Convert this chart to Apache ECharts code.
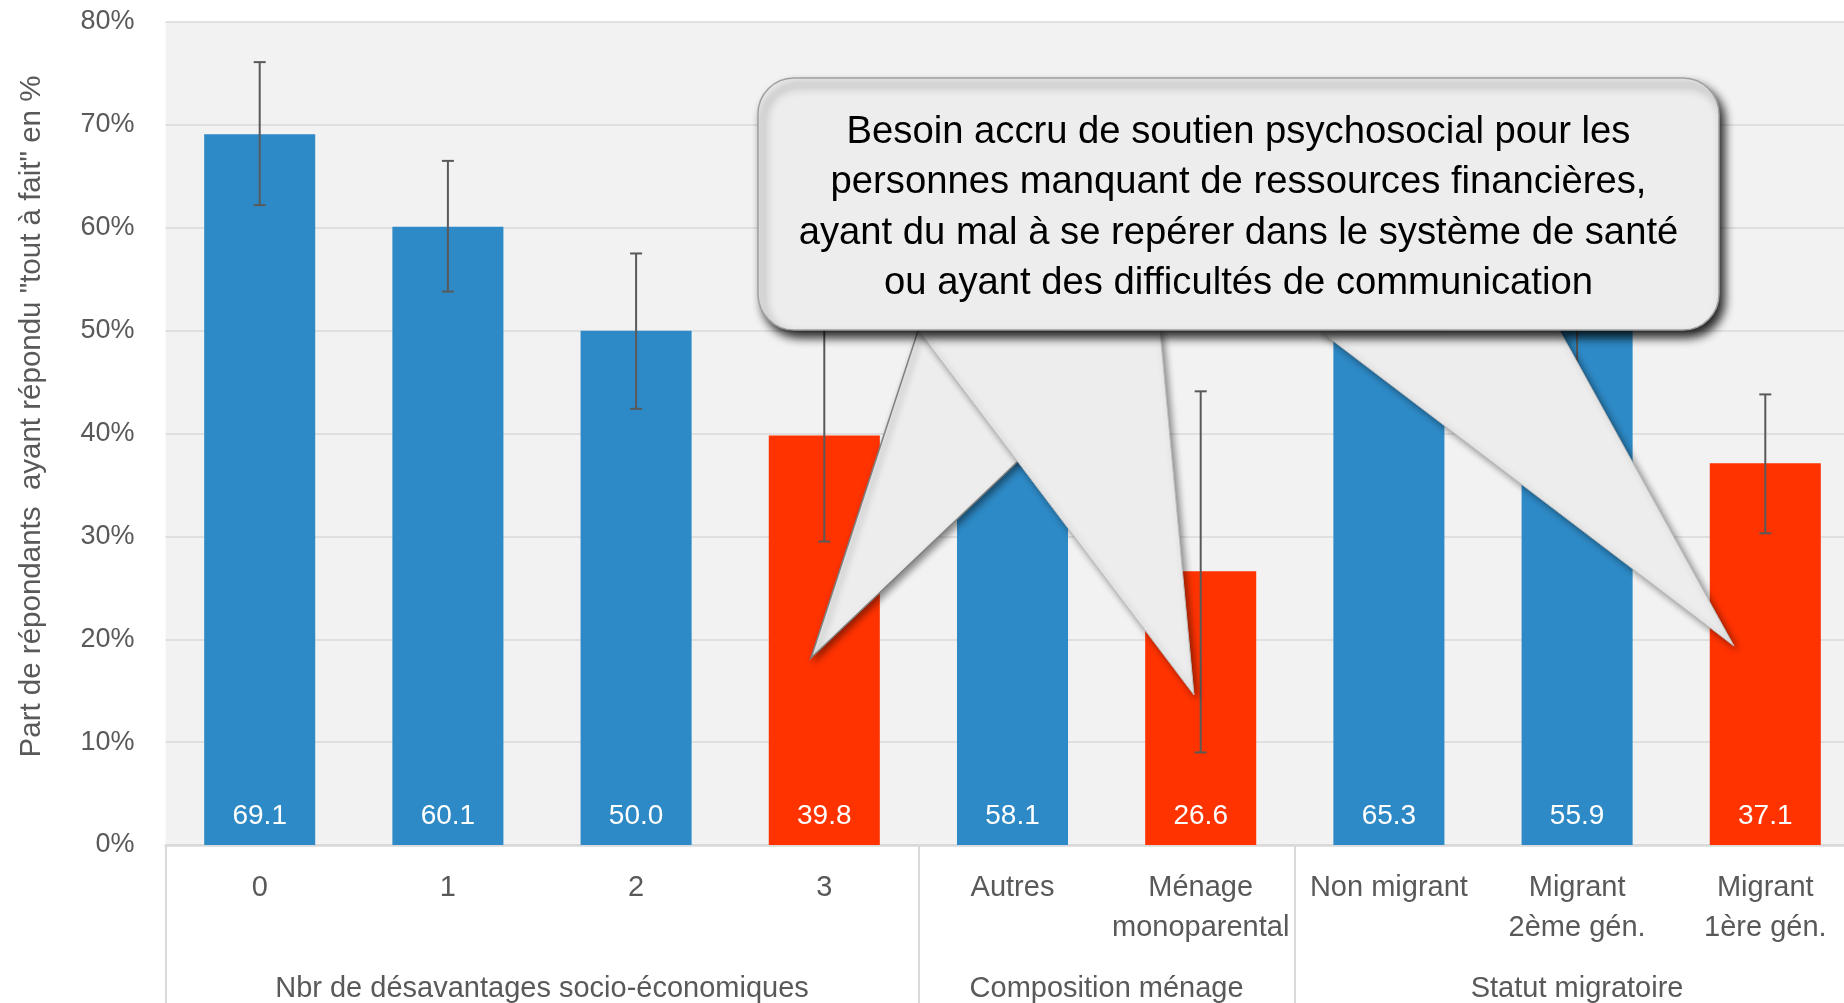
<!DOCTYPE html>
<html>
<head>
<meta charset="utf-8">
<style>
  html, body { margin: 0; padding: 0; background: #ffffff; }
  #chart { width: 1844px; height: 1003px; }
</style>
<script src="https://cdn.jsdelivr.net/npm/echarts@6/dist/echarts.min.js"></script>
</head>
<body>
<div id="chart"></div>
<script>
// ---------- data ----------
const categories = ['0', '1', '2', '3', 'Autres', 'Ménage\nmonoparental', 'Non migrant', 'Migrant\n2ème gén.', 'Migrant\n1ère gén.'];
const values = [69.1, 60.1, 50.0, 39.8, 58.1, 26.6, 65.3, 55.9, 37.1];
const errLow = [62.2, 53.8, 42.4, 29.5, 52.5, 9.0, 60.2, 45.0, 30.3];
const errHigh = [76.1, 66.5, 57.5, 51.0, 63.7, 44.1, 70.4, 66.8, 43.8];
const highlighted = [false, false, false, true, false, true, false, false, true];
const groupNames = ['Nbr de désavantages socio-économiques', 'Composition ménage', 'Statut migratoire'];
const groupSizes = [4, 2, 3];
const yMin = 0, yMax = 80, yStep = 10;
const yAxisTitle = 'Part de répondants  ayant répondu "tout à fait" en %';
const calloutLines = [
  'Besoin accru de soutien psychosocial pour les',
  'personnes manquant de ressources financières,',
  'ayant du mal à se repérer dans le système de santé',
  'ou ayant des difficultés de communication'
];

// ---------- layout helpers ----------
const FONT = "'Liberation Sans', Arial, sans-serif";
const BLUE = '#2E8AC6', RED = '#FF3300', GREY_TXT = '#595959', GRID = '#d9d9d9';

const groupStarts = [];
const groupCenters = [];
let acc = 0;
groupSizes.forEach(s => { groupStarts.push(acc); groupCenters.push(acc + s / 2); acc += s; });

// fit callout font size to the measured width of the widest line
const ctx = document.createElement('canvas').getContext('2d');
ctx.font = '100px ' + FONT;
const w3 = ctx.measureText(calloutLines[2]).width;
const calloutFont = Math.min(40, 100 * 880 / w3);

const chart = echarts.init(document.getElementById('chart'), null, { renderer: 'canvas' });

const pointerStyle = {
  fill: '#ededed', stroke: '#bfbfbf', lineWidth: 1,
  shadowBlur: 7, shadowOffsetX: 3, shadowOffsetY: 3, shadowColor: 'rgba(0,0,0,0.45)'
};

const option = {
  backgroundColor: '#ffffff',
  animation: false,
  grid: {
    left: 165.6, top: 22, width: 1693.8, height: 823,
    outerBoundsMode: 'none',
    containLabel: false,
    show: true, backgroundColor: '#f2f2f2', borderWidth: 0
  },
  xAxis: [
    {
      type: 'category',
      data: categories,
      boundaryGap: true,
      axisLine: { show: true, lineStyle: { color: GRID, width: 2.5 } },
      axisTick: { show: false },
      axisLabel: {
        interval: 0, color: GREY_TXT, fontFamily: FONT, fontSize: 29,
        lineHeight: 40, margin: 22.5
      },
      splitLine: { show: false }
    },
    {
      type: 'value',
      position: 'bottom',
      min: 0, max: categories.length,
      axisLine: { show: false },
      splitLine: { show: false },
      axisTick: {
        show: true, length: 160, inside: false,
        customValues: groupStarts,
        lineStyle: { color: GRID, width: 2 }
      },
      axisLabel: {
        show: true,
        customValues: groupCenters,
        formatter: v => {
          const i = groupCenters.findIndex(c => Math.abs(c - v) < 1e-6);
          return i >= 0 ? groupNames[i] : '';
        },
        color: GREY_TXT, fontFamily: FONT, fontSize: 29, lineHeight: 40, margin: 124
      }
    }
  ],
  yAxis: {
    type: 'value',
    min: yMin, max: yMax, interval: yStep,
    name: yAxisTitle,
    nameLocation: 'middle',
    nameGap: 119,
    nameRotate: 90,
    nameTextStyle: { color: GREY_TXT, fontFamily: FONT, fontSize: 29.5, padding: [0, 0, 0, 34] },
    axisLine: { show: false },
    axisTick: { show: false },
    axisLabel: { formatter: '{value}%', color: GREY_TXT, fontFamily: FONT, fontSize: 27, margin: 31 },
    splitLine: { show: true, lineStyle: { color: GRID, width: 1.5 } }
  },
  series: [
    {
      type: 'bar',
      xAxisIndex: 0,
      barWidth: '59%',
      data: values.map((v, i) => ({ value: v, itemStyle: { color: highlighted[i] ? RED : BLUE } })),
      label: {
        show: true, position: 'insideBottom', distance: 15,
        color: '#ffffff', fontFamily: FONT, fontSize: 28,
        formatter: p => p.value.toFixed(1)
      },
      z: 2
    },
    {
      type: 'custom',
      xAxisIndex: 0,
      z: 3,
      data: categories.map((c, i) => [i, errLow[i], errHigh[i]]),
      renderItem: (params, api) => {
        const x = api.value(0);
        const lo = api.coord([x, api.value(1)]);
        const hi = api.coord([x, api.value(2)]);
        const hw = 6;
        const st = { stroke: '#595959', lineWidth: 2 };
        return {
          type: 'group',
          children: [
            { type: 'line', shape: { x1: lo[0], y1: lo[1], x2: hi[0], y2: hi[1] }, style: st },
            { type: 'line', shape: { x1: hi[0] - hw, y1: hi[1], x2: hi[0] + hw, y2: hi[1] }, style: st },
            { type: 'line', shape: { x1: lo[0] - hw, y1: lo[1], x2: lo[0] + hw, y2: lo[1] }, style: st }
          ]
        };
      }
    }
  ],
  graphic: [
    { type: 'polygon', z: 100, shape: { points: [[918, 331], [811, 658], [1155, 331]] },
      style: Object.assign({}, pointerStyle, { stroke: '#808080', lineWidth: 1.5 }) },
    { type: 'polygon', z: 101, shape: { points: [[919, 331], [1194, 695], [1160, 331]] }, style: pointerStyle },
    { type: 'polygon', z: 101, shape: { points: [[1320, 331], [1734, 646], [1560, 331]] }, style: pointerStyle },
    { type: 'rect', z: 102,
      shape: { x: 758, y: 78, width: 961, height: 252, r: 36 },
      style: { fill: '#ededed', stroke: '#a0a0a0', lineWidth: 1.5,
               shadowBlur: 10, shadowOffsetX: 5, shadowOffsetY: 7, shadowColor: 'rgba(0,0,0,0.85)' } },
    { type: 'text', z: 103,
      style: {
        text: calloutLines.join('\n'),
        x: 1238.5, y: 208,
        align: 'center', verticalAlign: 'middle',
        fontFamily: FONT, fontSize: calloutFont, lineHeight: 50.6,
        fill: '#000000'
      } }
  ]
};

chart.setOption(option);
</script>
</body>
</html>
